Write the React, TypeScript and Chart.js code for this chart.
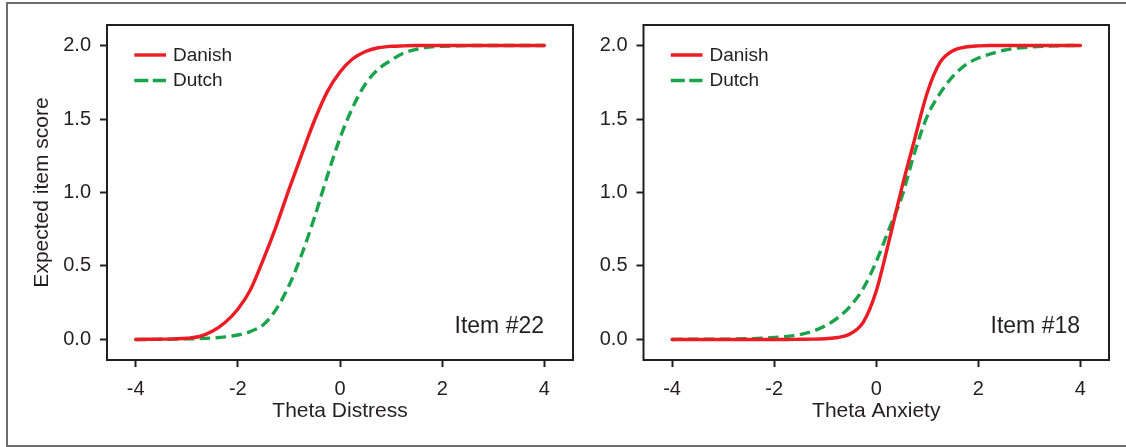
import React, { useEffect, useRef } from "react";
import { Chart, registerables } from "chart.js";

Chart.register(...registerables);

// ---- data ----
const theta = [
  -4, -3.75, -3.5, -3.25, -3, -2.75, -2.5, -2.25, -2, -1.75, -1.5, -1.25, -1, -0.75, -0.5, -0.25,
  0, 0.25, 0.5, 0.75, 1, 1.25, 1.5, 1.75, 2, 2.25, 2.5, 2.75, 3, 3.25, 3.5, 3.75, 4,
];

// Item #22 (Theta Distress)
const danish22 = [
  0, 0.001, 0.002, 0.004, 0.008, 0.02, 0.055, 0.115, 0.205, 0.34, 0.545, 0.77, 1.02, 1.258, 1.49, 1.685,
  1.82, 1.91, 1.96, 1.985, 1.995, 1.998, 2, 2, 2, 2, 2, 2, 2, 2, 2, 2, 2,
];
const dutch22 = [
  0, 0, 0.001, 0.002, 0.004, 0.006, 0.01, 0.017, 0.03, 0.055, 0.1, 0.205, 0.365, 0.578, 0.83, 1.11,
  1.37, 1.58, 1.74, 1.84, 1.9, 1.95, 1.975, 1.99, 1.995, 1.998, 2, 2, 2, 2, 2, 2, 2,
];

// Item #18 (Theta Anxiety)
const danish18 = [
  0, 0, 0, 0, 0, 0, 0, 0, 0, 0, 0.001, 0.002, 0.005, 0.013, 0.04, 0.12,
  0.33, 0.67, 1.03, 1.36, 1.68, 1.885, 1.965, 1.99, 1.998, 2, 2, 2, 2, 2, 2, 2, 2,
];
const dutch18 = [
  0, 0.001, 0.001, 0.002, 0.002, 0.003, 0.005, 0.008, 0.013, 0.02, 0.032, 0.055, 0.092, 0.148, 0.23, 0.35,
  0.53, 0.75, 0.97, 1.27, 1.52, 1.675, 1.79, 1.868, 1.915, 1.945, 1.968, 1.982, 1.99, 1.995, 1.998, 2, 2,
];

const xTicks = [-4, -2, 0, 2, 4];
const yTicks = [0, 0.5, 1, 1.5, 2];
const seriesNames = ["Danish", "Dutch"];

// ---- styles ----
const FONT = '"Liberation Sans", Arial, Helvetica, sans-serif';
const INK = "#231F20";
const RED = "#EC1C24";
const GREEN = "#19A34A";
const LINE_W = 3.4;

const overlayPlugin = {
  id: "overlay",
  afterDatasetsDraw(chart: any, _args: any, opts: any) {
    const { ctx, chartArea: a } = chart;
    ctx.save();
    // plot frame
    ctx.strokeStyle = INK;
    ctx.lineWidth = 2;
    ctx.setLineDash([]);
    ctx.strokeRect(a.left, a.top, a.right - a.left, a.bottom - a.top);
    // legend
    chart.data.datasets.forEach((ds: any, i: number) => {
      const y = a.top + 30 + i * 25.5;
      ctx.beginPath();
      ctx.lineCap = "butt";
      ctx.lineWidth = LINE_W;
      ctx.strokeStyle = ds.borderColor;
      ctx.setLineDash(i === 1 ? [14, 4.5] : []);
      ctx.moveTo(a.left + 27.3, y);
      ctx.lineTo(a.left + 59, y);
      ctx.stroke();
      ctx.setLineDash([]);
      ctx.fillStyle = INK;
      ctx.font = `19px ${FONT}`;
      ctx.textAlign = "left";
      ctx.textBaseline = "middle";
      ctx.fillText(ds.label, a.left + 66, y + 0.5);
    });
    // item label
    ctx.fillStyle = INK;
    ctx.font = `23px ${FONT}`;
    ctx.textAlign = "right";
    ctx.textBaseline = "alphabetic";
    ctx.fillText(opts.itemLabel, a.right - 29, a.bottom - 27);
    ctx.restore();
  },
};

function makeConfig(p: {
  danish: number[];
  dutch: number[];
  xTitle: string;
  yTitle: string | null;
  yWidth: number;
  padRight: number;
  itemLabel: string;
}): any {
  const tickFont = { family: FONT, size: 20 };
  const titleFont = { family: FONT, size: 21 };
  const grid = {
    display: true,
    drawOnChartArea: false,
    drawTicks: true,
    tickLength: 7,
    tickWidth: 2,
    tickColor: INK,
  };
  return {
    type: "line",
    data: {
      datasets: [
        {
          label: seriesNames[0],
          data: theta.map((t, i) => ({ x: t, y: p.danish[i] })),
          borderColor: RED,
          backgroundColor: RED,
          borderWidth: LINE_W,
          pointRadius: 0,
          cubicInterpolationMode: "monotone",
          borderCapStyle: "round",
          borderJoinStyle: "round",
          fill: false,
        },
        {
          label: seriesNames[1],
          data: theta.map((t, i) => ({ x: t, y: p.dutch[i] })),
          borderColor: GREEN,
          backgroundColor: GREEN,
          borderWidth: LINE_W,
          borderDash: [10.5, 5.5],
          pointRadius: 0,
          cubicInterpolationMode: "monotone",
          borderCapStyle: "butt",
          borderJoinStyle: "round",
          fill: false,
        },
      ],
    },
    options: {
      animation: false,
      responsive: false,
      maintainAspectRatio: false,
      events: [],
      layout: { padding: { left: 0, top: 25, right: p.padRight, bottom: 0 }, autoPadding: false },
      plugins: {
        legend: { display: false },
        tooltip: { enabled: false },
        overlay: { itemLabel: p.itemLabel },
      },
      scales: {
        x: {
          type: "linear",
          min: -4.56,
          max: 4.56,
          afterBuildTicks: (s: any) => {
            s.ticks = xTicks.map((v) => ({ value: v }));
          },
          afterFit: (s: any) => {
            s.height = 87;
          },
          ticks: {
            autoSkip: false,
            maxRotation: 0,
            padding: 10,
            color: INK,
            font: tickFont,
            callback: (v: any) => String(v),
          },
          grid,
          border: { display: false },
          title: {
            display: true,
            text: p.xTitle,
            color: INK,
            font: titleFont,
            padding: { top: 0, bottom: 23.4 },
          },
        },
        y: {
          type: "linear",
          min: -0.14,
          max: 2.14,
          afterBuildTicks: (s: any) => {
            s.ticks = yTicks.map((v) => ({ value: v }));
          },
          afterFit: (s: any) => {
            s.width = p.yWidth;
          },
          ticks: {
            autoSkip: false,
            padding: 9,
            color: INK,
            font: tickFont,
            callback: (v: any) => Number(v).toFixed(1),
          },
          grid,
          border: { display: false },
          title: {
            display: p.yTitle !== null,
            text: p.yTitle ?? "",
            color: INK,
            font: titleFont,
            padding: { top: 29.4, bottom: 0 },
          },
        },
      },
    },
    plugins: [overlayPlugin],
  };
}

export default function App() {
  const leftRef = useRef<HTMLCanvasElement>(null);
  const rightRef = useRef<HTMLCanvasElement>(null);

  useEffect(() => {
    document.body.style.margin = "0";
    const c1 = new Chart(
      leftRef.current!,
      makeConfig({
        danish: danish22,
        dutch: dutch22,
        xTitle: "Theta Distress",
        yTitle: "Expected item score",
        yWidth: 107,
        padRight: 17,
        itemLabel: "Item #22",
      })
    );
    const c2 = new Chart(
      rightRef.current!,
      makeConfig({
        danish: danish18,
        dutch: dutch18,
        xTitle: "Theta Anxiety",
        yTitle: null,
        yWidth: 53.5,
        padRight: 17,
        itemLabel: "Item #18",
      })
    );
    return () => {
      c1.destroy();
      c2.destroy();
    };
  }, []);

  return (
    <div
      style={{
        position: "fixed",
        left: 0,
        top: 0,
        width: 1126,
        height: 447,
        overflow: "hidden",
        background: "#fff",
      }}
    >
      <div
        style={{
          position: "absolute",
          left: 6,
          top: 2,
          width: 1140,
          height: 445,
          boxSizing: "border-box",
          border: "2px solid #6e6e6e",
        }}
      />
      <canvas
        ref={leftRef}
        width={590}
        height={447}
        style={{ position: "absolute", left: 0, top: 0, width: 590, height: 447 }}
      />
      <canvas
        ref={rightRef}
        width={536}
        height={447}
        style={{ position: "absolute", left: 590, top: 0, width: 536, height: 447 }}
      />
    </div>
  );
}
